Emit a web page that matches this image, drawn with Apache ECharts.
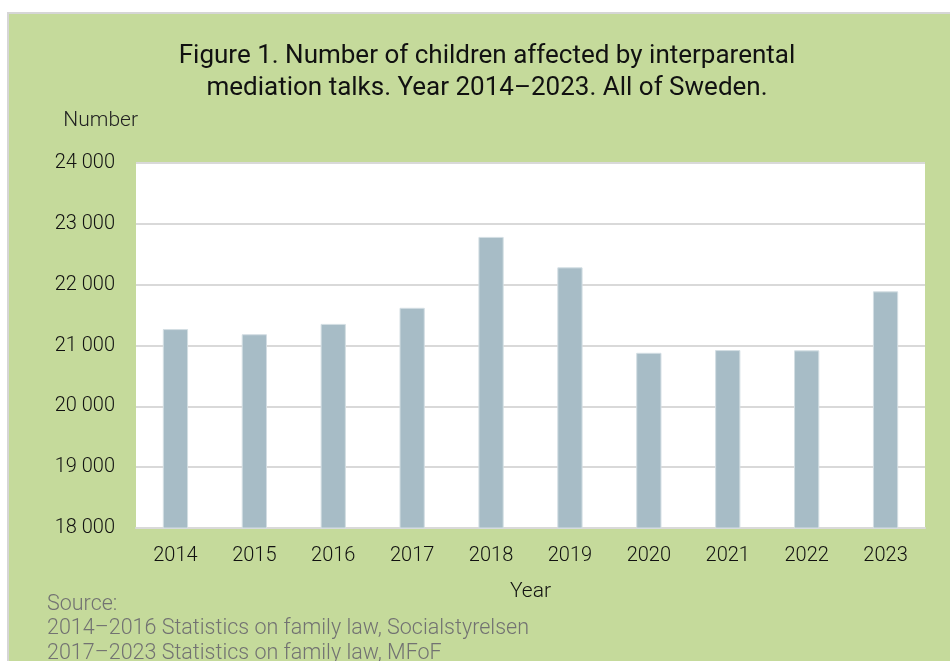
<!DOCTYPE html>
<html>
<head>
<meta charset="utf-8">
<script src="https://cdn.jsdelivr.net/npm/echarts@6/dist/echarts.min.js"></script>
<style>
	* {
		margin: 0;
		padding: 0;
	}
	body {
		background: #fff;
	}
	#main {
		width: 950px;
		height: 661px;
	}
</style>
</head>
<body>
<div id="main"></div>
<script>
	// data
	var years = ['2014', '2015', '2016', '2017', '2018', '2019', '2020', '2021', '2022', '2023'];
	var children = [21270, 21185, 21355, 21620, 22785, 22285, 20880, 20925, 20920, 21890];
	var titleLines = ['Figure 1. Number of children affected by interparental', 'mediation talks. Year 2014\u20132023. All of Sweden.'];
	var sourceLines = ['Source:', '2014\u20132016 Statistics on family law, Socialstyrelsen', '2017\u20132023 Statistics on family law, MFoF'];

	var font = 'Roboto, "Noto Sans", sans-serif';

	function fmt(v) {
		return String(v).replace(/\B(?=(\d{3})+(?!\d))/g, ' ');
	}

	var chart = echarts.init(document.getElementById('main'));
	chart.setOption({
		backgroundColor: '#fff',
		animation: false,
		graphic: [
			{
				type: 'rect',
				z: -10,
				shape: { x: 8, y: 13, width: 950, height: 660 },
				style: { fill: '#c5da9b', stroke: '#d6d6d6', lineWidth: 2 }
			},
			{
				type: 'text',
				x: 487,
				y: 40,
				style: {
					text: titleLines.join('\n'),
					font: '26px ' + font,
					fill: '#111',
					align: 'center',
					lineHeight: 32
				}
			},
			{
				type: 'text',
				x: 138,
				y: 110,
				style: {
					text: 'Number',
					font: '300 21px ' + font,
					fill: '#222',
					align: 'right'
				}
			},
			{
				type: 'text',
				x: 47,
				y: 592,
				style: {
					text: sourceLines.join('\n'),
					font: '300 21.5px ' + font,
					fill: '#727272',
					lineHeight: 24.5
				}
			}
		],
		grid: {
			show: true,
			left: 136,
			right: 25,
			top: 163,
			bottom: 133,
			backgroundColor: '#fff',
			borderWidth: 0
		},
		xAxis: {
			type: 'category',
			data: years,
			name: 'Year',
			nameLocation: 'middle',
			nameGap: 53,
			nameTextStyle: { fontFamily: font, fontWeight: 300, fontSize: 21, color: '#111' },
			axisLine: { lineStyle: { color: '#d9d9d9', width: 2 } },
			axisTick: { show: false },
			axisLabel: { margin: 18, fontFamily: font, fontWeight: 300, fontSize: 20, color: '#111' }
		},
		yAxis: {
			type: 'value',
			min: 18000,
			max: 24000,
			interval: 1000,
			axisLine: { show: false },
			axisTick: { show: false },
			splitLine: { lineStyle: { color: '#d9d9d9', width: 2 } },
			axisLabel: {
				margin: 21,
				fontFamily: font,
				fontWeight: 300,
				fontSize: 20,
				color: '#111',
				formatter: fmt
			}
		},
		series: [{
			type: 'bar',
			data: children,
			barWidth: '32%',
			itemStyle: { color: '#a7bcc6', borderColor: '#d3dee3', borderWidth: 1 }
		}]
	});
</script>
</body>
</html>
